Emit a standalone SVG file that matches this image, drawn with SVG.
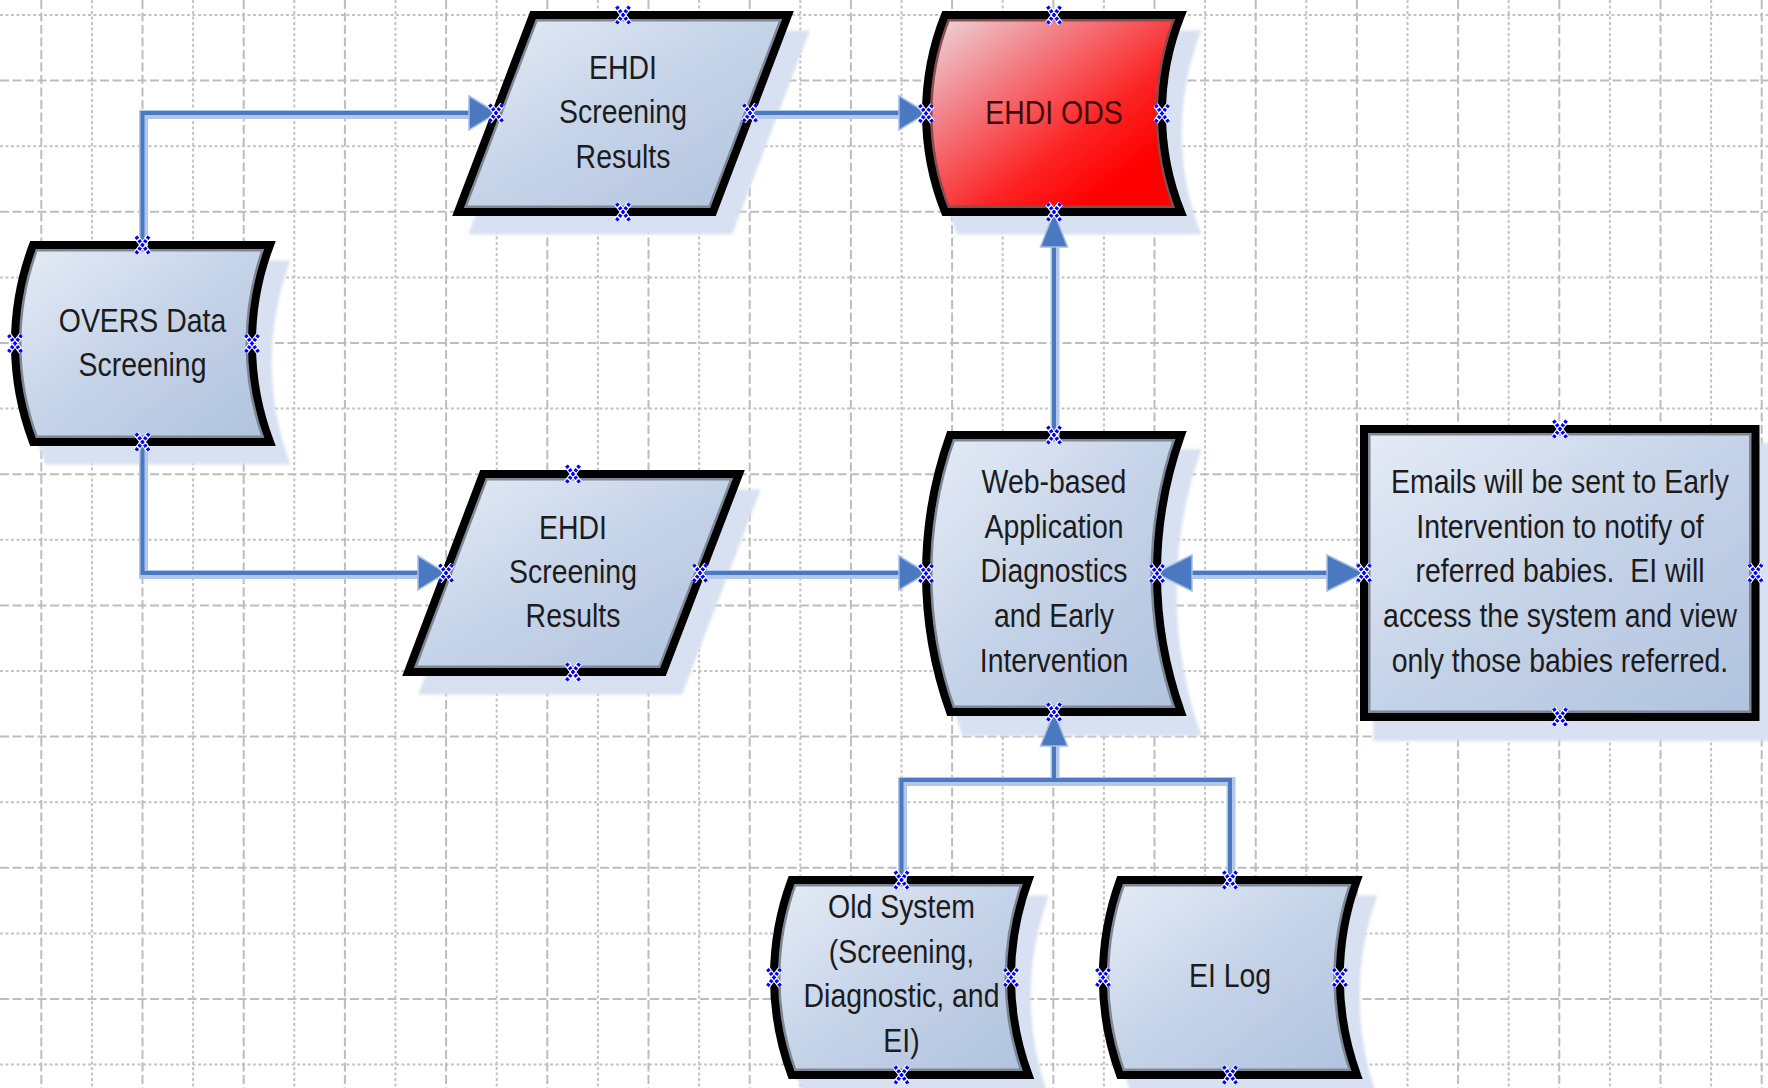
<svg xmlns="http://www.w3.org/2000/svg" xmlns:xlink="http://www.w3.org/1999/xlink" width="1768" height="1088" viewBox="0 0 1768 1088">
<style>
.gmaj{stroke:#bdbdbd;stroke-width:2;stroke-dasharray:9 3.5;fill:none}
.gmin{stroke:#c3c3c3;stroke-width:2;stroke-dasharray:3 2.5;fill:none}
.shadow{fill:#d8e1f1;filter:url(#blur)}
.fill{fill:url(#gBlue)}
.fillred{fill:url(#gRed)}
.inner{fill:none;stroke:#7e8793;stroke-width:13}
.edge{fill:none;stroke:#000;stroke-width:8;stroke-linejoin:miter}
.t{font-family:"Liberation Sans",Arial,sans-serif;font-size:32.5px;fill:#1c1c1c;text-anchor:middle}
.tred{fill:#3d0a0a}
.halo{fill:none;stroke:#b2c6e8;stroke-width:9}
.line{fill:none;stroke:#4a78c1;stroke-width:4}
.arrow{fill:#4a78c1;stroke:#a4bce3;stroke-width:1.5;stroke-linejoin:miter}
</style>
<defs>
<filter id="blur" x="-10%" y="-10%" width="120%" height="120%"><feGaussianBlur stdDeviation="1.5"/></filter>
<linearGradient id="gBlue" x1="0" y1="0" x2="1" y2="1">
<stop offset="0" stop-color="#e6ecf6"/>
<stop offset="0.5" stop-color="#c5d3e8"/>
<stop offset="1" stop-color="#b0c2de"/>
</linearGradient>
<linearGradient id="gRed" x1="0" y1="0" x2="1" y2="1">
<stop offset="0" stop-color="#ecdfe3"/>
<stop offset="0.3" stop-color="#f27f86"/>
<stop offset="0.6" stop-color="#fc2424"/>
<stop offset="0.8" stop-color="#ff0000"/>
</linearGradient>
<path id="p-para1" d="M533,15 L788,15 L713,212 L458,212 Z"/>
<path id="p-ods" d="M945,15 L1181,15 A265,265 0 0 0 1181,212 L945,212 A265,265 0 0 1 945,15 Z"/>
<path id="p-overs" d="M33,245 L270,245 A278,278 0 0 0 270,442 L33,442 A278,278 0 0 1 33,245 Z"/>
<path id="p-para2" d="M483,474 L739,474 L663,672 L408,672 Z"/>
<path id="p-web" d="M950,435 L1181,435 A412,412 0 0 0 1181,712 L950,712 A412,412 0 0 1 950,435 Z"/>
<path id="p-email" d="M1364,429 H1755.5 V717 H1364 Z"/>
<path id="p-old" d="M791.5,880 L1028.5,880 A280,280 0 0 0 1028.5,1075 L791.5,1075 A280,280 0 0 1 791.5,880 Z"/>
<path id="p-eilog" d="M1120,880 L1357,880 A285,285 0 0 0 1357,1075 L1120,1075 A285,285 0 0 1 1120,880 Z"/>
<clipPath id="c-para1"><use xlink:href="#p-para1"/></clipPath>
<clipPath id="c-ods"><use xlink:href="#p-ods"/></clipPath>
<clipPath id="c-overs"><use xlink:href="#p-overs"/></clipPath>
<clipPath id="c-para2"><use xlink:href="#p-para2"/></clipPath>
<clipPath id="c-web"><use xlink:href="#p-web"/></clipPath>
<clipPath id="c-email"><use xlink:href="#p-email"/></clipPath>
<clipPath id="c-old"><use xlink:href="#p-old"/></clipPath>
<clipPath id="c-eilog"><use xlink:href="#p-eilog"/></clipPath>
<g id="cp">
<path d="M-6.5,-8.5 L6.5,8.5 M6.5,-8.5 L-6.5,8.5" stroke="#ffffff" stroke-width="5.5" fill="none"/>
<path d="M-6.5,-8.5 L6.5,8.5 M6.5,-8.5 L-6.5,8.5" stroke="#0000ff" stroke-width="3.5" stroke-dasharray="3 1.6" fill="none"/>
</g>
</defs>
<rect x="0" y="0" width="1768" height="1088" fill="#ffffff"/>
<g id="grid">
<path class="gmin" d="M0,15H1768 M0,146.2H1768 M0,277.4H1768 M0,408.6H1768 M0,539.8H1768 M0,671H1768 M0,802.2H1768 M0,933.4H1768 M0,1064.6H1768"/>
<path class="gmaj" d="M0,80.6H1768 M0,211.8H1768 M0,343H1768 M0,474.2H1768 M0,605.4H1768 M0,736.6H1768 M0,867.8H1768 M0,999H1768"/>
<path class="gmin" d="M91.9,0V1088 M193.1,0V1088 M294.3,0V1088 M395.5,0V1088 M496.7,0V1088 M597.9,0V1088 M699.1,0V1088 M800.3,0V1088 M901.5,0V1088 M1002.7,0V1088 M1103.9,0V1088 M1205.1,0V1088 M1306.3,0V1088 M1407.5,0V1088 M1508.7,0V1088 M1609.9,0V1088 M1711.1,0V1088"/>
<path class="gmaj" d="M41.3,0V1088 M142.5,0V1088 M243.7,0V1088 M344.9,0V1088 M446.1,0V1088 M547.3,0V1088 M648.5,0V1088 M749.7,0V1088 M850.9,0V1088 M952.1,0V1088 M1053.3,0V1088 M1154.5,0V1088 M1255.7,0V1088 M1356.9,0V1088 M1458.1,0V1088 M1559.3,0V1088 M1660.5,0V1088 M1761.7,0V1088"/>
</g>
<g id="node-screening-results-top">
<use xlink:href="#p-para1" class="shadow" transform="translate(639,132.5) scale(1.035) translate(-623,-113.5)"/>
<use xlink:href="#p-para1" class="fill"/>
<use xlink:href="#p-para1" class="inner" clip-path="url(#c-para1)"/>
<use xlink:href="#p-para1" class="edge"/>
<text class="t" transform="translate(623,79) scale(0.875,1)"><tspan x="0" y="0">EHDI</tspan><tspan x="0" y="44.5">Screening</tspan><tspan x="0" y="89">Results</tspan></text>
</g>
<g id="node-ehdi-ods">
<use xlink:href="#p-ods" class="shadow" transform="translate(1070,132.5) scale(1.035) translate(-1054,-113.5)"/>
<use xlink:href="#p-ods" class="fillred"/>
<use xlink:href="#p-ods" class="inner" clip-path="url(#c-ods)" style="stroke:#8a4a4e"/>
<use xlink:href="#p-ods" class="edge"/>
<text class="t tred" transform="translate(1054,124) scale(0.875,1)">EHDI ODS</text>
</g>
<g id="node-overs">
<use xlink:href="#p-overs" class="shadow" transform="translate(158.5,362.5) scale(1.035) translate(-142.5,-343.5)"/>
<use xlink:href="#p-overs" class="fill"/>
<use xlink:href="#p-overs" class="inner" clip-path="url(#c-overs)"/>
<use xlink:href="#p-overs" class="edge"/>
<text class="t" transform="translate(142.5,332) scale(0.875,1)"><tspan x="0" y="0">OVERS Data</tspan><tspan x="0" y="44.5">Screening</tspan></text>
</g>
<g id="node-screening-results-bottom">
<use xlink:href="#p-para2" class="shadow" transform="translate(589,592) scale(1.035) translate(-573,-573)"/>
<use xlink:href="#p-para2" class="fill"/>
<use xlink:href="#p-para2" class="inner" clip-path="url(#c-para2)"/>
<use xlink:href="#p-para2" class="edge"/>
<text class="t" transform="translate(573,538.5) scale(0.875,1)"><tspan x="0" y="0">EHDI</tspan><tspan x="0" y="44.5">Screening</tspan><tspan x="0" y="89">Results</tspan></text>
</g>
<g id="node-web-app">
<use xlink:href="#p-web" class="shadow" transform="translate(1069.5,592.5) scale(1.035) translate(-1053.5,-573.5)"/>
<use xlink:href="#p-web" class="fill"/>
<use xlink:href="#p-web" class="inner" clip-path="url(#c-web)"/>
<use xlink:href="#p-web" class="edge"/>
<text class="t" transform="translate(1054,493) scale(0.875,1)"><tspan x="0" y="0">Web-based</tspan><tspan x="0" y="44.7">Application</tspan><tspan x="0" y="89.4">Diagnostics</tspan><tspan x="0" y="134.1">and Early</tspan><tspan x="0" y="178.8">Intervention</tspan></text>
</g>
<g id="node-emails">
<use xlink:href="#p-email" class="shadow" transform="translate(1576,592) scale(1.035) translate(-1560,-573)"/>
<use xlink:href="#p-email" class="fill"/>
<use xlink:href="#p-email" class="inner" clip-path="url(#c-email)"/>
<use xlink:href="#p-email" class="edge"/>
<text class="t" transform="translate(1560,493) scale(0.875,1)" style="white-space:pre"><tspan x="0" y="0">Emails will be sent to Early</tspan><tspan x="0" y="44.7">Intervention to notify of</tspan><tspan x="0" y="89.4">referred babies.  EI will</tspan><tspan x="0" y="134.1">access the system and view</tspan><tspan x="0" y="178.8">only those babies referred.</tspan></text>
</g>
<g id="node-old-system">
<use xlink:href="#p-old" class="shadow" transform="translate(917.5,996.5) scale(1.035) translate(-901.5,-977.5)"/>
<use xlink:href="#p-old" class="fill"/>
<use xlink:href="#p-old" class="inner" clip-path="url(#c-old)"/>
<use xlink:href="#p-old" class="edge"/>
<text class="t" transform="translate(901.5,918.3) scale(0.875,1)"><tspan x="0" y="0">Old System</tspan><tspan x="0" y="44.6">(Screening,</tspan><tspan x="0" y="89.2">Diagnostic, and</tspan><tspan x="0" y="133.8">EI)</tspan></text>
</g>
<g id="node-ei-log">
<use xlink:href="#p-eilog" class="shadow" transform="translate(1246,996.5) scale(1.035) translate(-1230,-977.5)"/>
<use xlink:href="#p-eilog" class="fill"/>
<use xlink:href="#p-eilog" class="inner" clip-path="url(#c-eilog)"/>
<use xlink:href="#p-eilog" class="edge"/>
<text class="t" transform="translate(1230,987) scale(0.875,1)">EI Log</text>
</g>
<g id="connectors">
<g transform="translate(1,1.5)">
<path class="halo" d="M142.5,245 V113 H470"/>
<path class="halo" d="M748,113 H900"/>
<path class="halo" d="M142.5,442 V573 H419"/>
<path class="halo" d="M700,573 H900"/>
<path class="halo" d="M1054,435 V246"/>
<path class="halo" d="M1192,573 H1327"/>
<path class="halo" d="M901.5,880 V780 H1230 V880 M1054,780 V745"/>
</g>
<path class="line" d="M142.5,245 V113 H471"/>
<polygon class="arrow" points="469,96 497,113 469,130"/>
<path class="line" d="M748,113 H901"/>
<polygon class="arrow" points="899,96 927,113 899,130"/>
<path class="line" d="M142.5,442 V573 H420"/>
<polygon class="arrow" points="418,556 446,573 418,590"/>
<path class="line" d="M700,573 H901"/>
<polygon class="arrow" points="899,556 927,573 899,590"/>
<path class="line" d="M1054,435 V245"/>
<polygon class="arrow" points="1040.5,247 1054,212 1067.5,247"/>
<path class="line" d="M1190,573 H1329"/>
<polygon class="arrow" points="1192,555 1155,573 1192,591"/>
<polygon class="arrow" points="1327,555 1364,573 1327,591"/>
<path class="line" d="M901.5,880 V780 H1230 V880 M1054,780 V744"/>
<polygon class="arrow" points="1040.5,746 1054,712 1067.5,746"/>
</g>
<g id="connection-points">
<use xlink:href="#cp" x="623" y="15"/><use xlink:href="#cp" x="623" y="212"/><use xlink:href="#cp" x="496" y="113"/><use xlink:href="#cp" x="750" y="113"/>
<use xlink:href="#cp" x="1054" y="15"/><use xlink:href="#cp" x="1054" y="212"/><use xlink:href="#cp" x="926" y="113.5"/><use xlink:href="#cp" x="1162" y="113.5"/>
<use xlink:href="#cp" x="142.5" y="245"/><use xlink:href="#cp" x="142.5" y="442"/><use xlink:href="#cp" x="15" y="343.5"/><use xlink:href="#cp" x="252" y="343.5"/>
<use xlink:href="#cp" x="573" y="474"/><use xlink:href="#cp" x="573" y="672"/><use xlink:href="#cp" x="446" y="573"/><use xlink:href="#cp" x="700" y="573"/>
<use xlink:href="#cp" x="1054" y="435"/><use xlink:href="#cp" x="1054" y="712"/><use xlink:href="#cp" x="926" y="573.5"/><use xlink:href="#cp" x="1157" y="573.5"/>
<use xlink:href="#cp" x="1560" y="429"/><use xlink:href="#cp" x="1560" y="717"/><use xlink:href="#cp" x="1364" y="573"/><use xlink:href="#cp" x="1755.5" y="573"/>
<use xlink:href="#cp" x="901.5" y="880"/><use xlink:href="#cp" x="901.5" y="1075"/><use xlink:href="#cp" x="774" y="977.5"/><use xlink:href="#cp" x="1011" y="977.5"/>
<use xlink:href="#cp" x="1230" y="880"/><use xlink:href="#cp" x="1230" y="1075"/><use xlink:href="#cp" x="1103" y="977.5"/><use xlink:href="#cp" x="1340" y="977.5"/>
</g>
</svg>
